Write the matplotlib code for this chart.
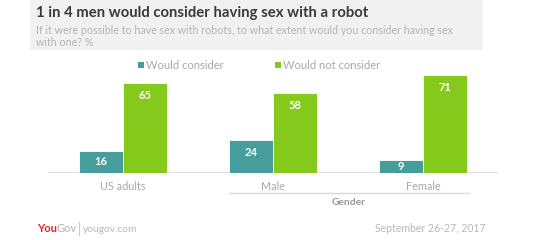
import numpy as np
import matplotlib
matplotlib.use("Agg")
import matplotlib.pyplot as plt
from matplotlib.patches import Rectangle

categories = ["US adults", "Male", "Female"]
would_consider = [16, 24, 9]
would_not_consider = [65, 58, 71]
series_names = ["Would consider", "Would not consider"]

TEAL = "#479c9c"
GREEN = "#84c91c"
plt.rcParams['font.family'] = ['Lato', 'DejaVu Sans']

W, H = 540, 240
fig = plt.figure(figsize=(W / 100, H / 100), dpi=100)
fig.patch.set_facecolor("white")

def fx(px):
    return px / W

def fy(py):
    return 1 - py / H

# header panel
fig.patches.append(Rectangle((fx(30), fy(50)), fx(453), 50 / H, transform=fig.transFigure,
                             facecolor="#f1f1f1", edgecolor="none", zorder=0))
fig.text(fx(36), fy(13), "1 in 4 men would consider having sex with a robot",
         fontsize=10.7, fontweight="bold", color="#3a3a3a", va="center")
fig.text(fx(36), fy(30), "If it were possible to have sex with robots, to what extent would you consider having sex",
         fontsize=7.65, color="#b5b5b5", va="center")
fig.text(fx(36), fy(42), "with one? %", fontsize=7.65, color="#b5b5b5", va="center")

# axes
base = 172.7
top = 70
ax = fig.add_axes([fx(48), fy(base), fx(450), (base - top) / H])
ax.set_xlim(-0.5, 2.5)
ax.set_ylim(0, (base - top) / 1.375)
ax.axis("off")
ax.axhline(0, color="#d8d8d8", lw=1.2, zorder=1)

x = np.arange(len(categories))
bw = 44 / 150
b1 = ax.bar(x - bw / 2, would_consider, bw, color=TEAL, edgecolor="white", linewidth=0.6, zorder=2)
b2 = ax.bar(x + bw / 2, would_not_consider, bw, color=GREEN, edgecolor="white", linewidth=0.6, zorder=2)

for bars, vals in ((b1, would_consider), (b2, would_not_consider)):
    for rect, v in zip(bars, vals):
        ax.text(rect.get_x() + rect.get_width() / 2, v - min(9, v / 2), str(v),
                ha="center", va="center", color="white", fontsize=8, fontweight="bold", zorder=3)

for xi, c in zip(x, categories):
    ax.text(xi, -13.5 / 1.375, c, ha="center", va="center", fontsize=7.8, color="#a8a8a8")

# gender group marker
fig.add_artist(plt.Line2D([fx(230), fx(469)], [fy(192.7), fy(192.7)], color="#d8d8d8", lw=1.0))
fig.text(fx(349), fy(202.5), "Gender", ha="center", va="center", fontsize=7.4,
         color="#999999", fontweight="bold")

# legend
for sx, col, name in ((138, TEAL, series_names[0]), (275, GREEN, series_names[1])):
    fig.patches.append(Rectangle((fx(sx), fy(68)), fx(5.5), 5.5 / H, transform=fig.transFigure,
                                 facecolor=col, edgecolor="none"))
    fig.text(fx(sx + 8), fy(65.3), name, fontsize=8, color="#a8a8a8", va="center")

# footer
fig.text(fx(37), fy(229), "You", fontsize=8, fontweight="bold", color="#e8202a", va="center")
fig.text(fx(56.5), fy(229), "Gov", fontsize=8, color="#b5b5b5", va="center")
fig.add_artist(plt.Line2D([fx(79), fx(79)], [fy(222), fy(235)], color="#cccccc", lw=0.8))
fig.text(fx(83), fy(229), "yougov.com", fontsize=7.4, color="#b8b8b8", va="center")
fig.text(fx(486), fy(229), "September 26-27, 2017", fontsize=7.6, color="#b8b8b8",
         va="center", ha="right")

fig.savefig("out.png", dpi=100, facecolor="white")
